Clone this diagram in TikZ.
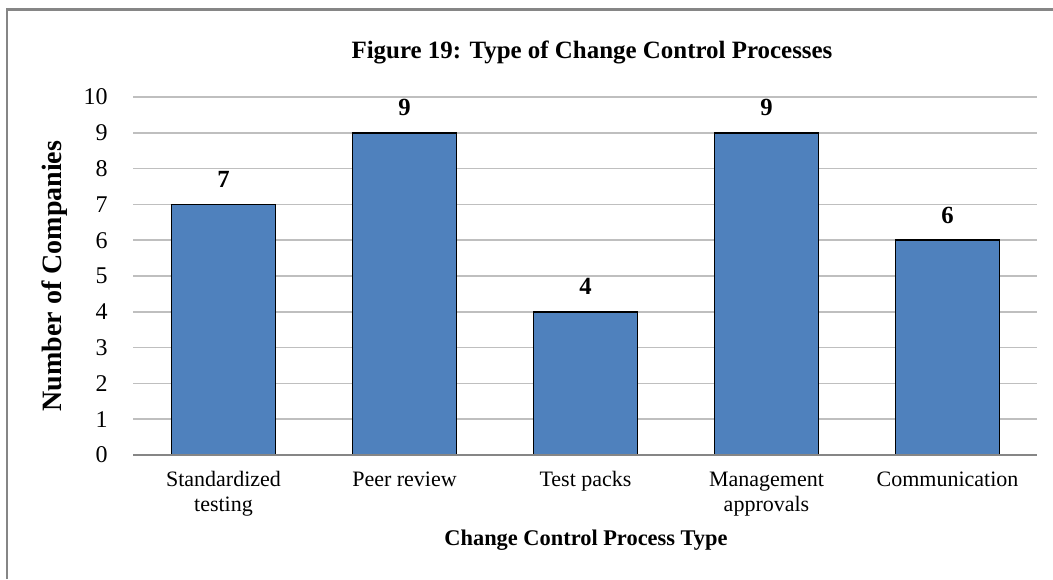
\documentclass[tikz,border=0pt]{standalone}
\usepackage{fontspec}
\setmainfont{Liberation Serif}
\begin{document}
\begin{tikzpicture}[x=0.75pt,y=-0.75pt,
  grid/.style={draw=gray!50, line width=1.1pt},
  baseaxis/.style={draw=gray!95, line width=1.3pt},
  barbox/.style={fill=barblue, draw=black, line width=1.1pt},
  frameline/.style={draw=gray!95, line width=1.6pt},
  ticklab/.style={anchor=east, font=\fontsize{18}{20}\selectfont, inner sep=0pt},
  catlab/.style={align=center, font=\fontsize{16.5}{18.5}\selectfont, inner sep=0pt, anchor=north},
  vallab/.style={font=\bfseries\fontsize{18.5}{20}\selectfont, inner sep=0pt},
  ]
\definecolor{barblue}{HTML}{4F81BD}
\useasboundingbox (0,0) rectangle (1053,579);
\fill[white] (0,0) rectangle (1053,579);
% frame
\draw[frameline] (7,579) -- (7,9.5) -- (1053,9.5);
% title
\node[font=\bfseries\fontsize{18.7}{22}\selectfont] (title) at (592,52) {Figure 19: Type of Change Control Processes};
% gridlines and ticks
\foreach \k in {1,...,10} {
  \draw[grid] (133,{455-35.8*\k}) -- (1037,{455-35.8*\k});
}
\foreach \k in {0,...,10} {
  \node[ticklab] (t\k) at (108,{455-35.8*\k}) {\k};
}
% bars
\foreach \i/\v/\name in {1/7/Standardized\\testing, 2/9/Peer review, 3/4/Test packs, 4/9/Management\\approvals, 5/6/Communication} {
  \pgfmathsetmacro{\cx}{133+181*(\i-0.5)}
  \draw[barbox] ({\cx-52},455) rectangle ({\cx+52},{455-35.8*\v});
  \node[vallab] (v\i) at (\cx,{455-35.8*\v-25}) {\v};
  \node[catlab] (c\i) at (\cx,469) {\strut\name};
}
\draw[baseaxis] (133,455) -- (1037,455);
% axis titles
\node[font=\bfseries\fontsize{21}{24}\selectfont, rotate=90] (ylab) at (55,276) {Number of Companies};
\node[font=\bfseries\fontsize{16.8}{20}\selectfont] (xlab) at (586,540) {Change Control Process Type};
\end{tikzpicture}
\end{document}
